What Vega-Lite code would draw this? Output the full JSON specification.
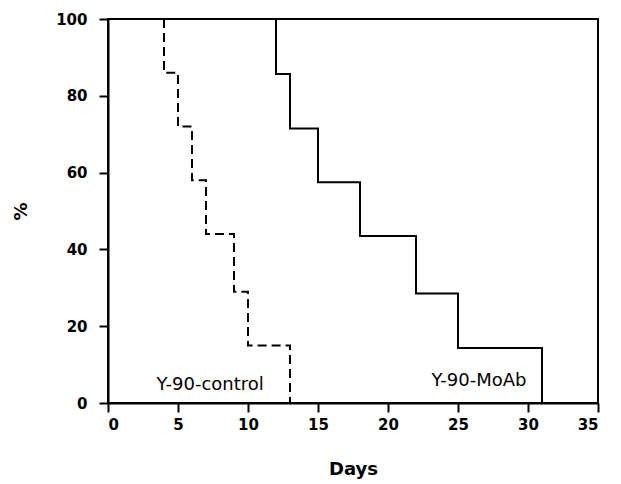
{
  "$schema": "https://vega.github.io/schema/vega-lite/v6.json",
  "width": 490,
  "height": 384,
  "autosize": {"type": "none"},
  "padding": {"left": 108, "top": 19, "right": 23, "bottom": 81},
  "background": "white",
  "config": {
    "view": {"stroke": "black", "strokeWidth": 2},
    "axis": {
      "grid": false,
      "domainColor": "black",
      "domainWidth": 2,
      "tickColor": "black",
      "tickWidth": 2,
      "tickSize": 9,
      "labelFont": "DejaVu Sans",
      "labelFontWeight": "bold",
      "labelFontSize": 15,
      "labelColor": "black",
      "titleFont": "DejaVu Sans",
      "titleFontWeight": "bold",
      "titleFontSize": 18,
      "titleColor": "black"
    }
  },
  "datasets": {
    "curves": [
      {"group": "Y-90-control", "day": 0, "pct": 100},
      {"group": "Y-90-control", "day": 4, "pct": 86},
      {"group": "Y-90-control", "day": 5, "pct": 72},
      {"group": "Y-90-control", "day": 6, "pct": 58},
      {"group": "Y-90-control", "day": 7, "pct": 44},
      {"group": "Y-90-control", "day": 9, "pct": 29},
      {"group": "Y-90-control", "day": 10, "pct": 15},
      {"group": "Y-90-control", "day": 13, "pct": 0},
      {"group": "Y-90-MoAb", "day": 0, "pct": 100},
      {"group": "Y-90-MoAb", "day": 12, "pct": 85.7},
      {"group": "Y-90-MoAb", "day": 13, "pct": 71.5},
      {"group": "Y-90-MoAb", "day": 15, "pct": 57.5},
      {"group": "Y-90-MoAb", "day": 18, "pct": 43.5},
      {"group": "Y-90-MoAb", "day": 22, "pct": 28.5},
      {"group": "Y-90-MoAb", "day": 25, "pct": 14.3},
      {"group": "Y-90-MoAb", "day": 31, "pct": 0}
    ],
    "labels": [
      {"label": "Y-90-control", "day": 7.3, "pct": 4.7},
      {"label": "Y-90-MoAb", "day": 26.5, "pct": 5.8}
    ]
  },
  "layer": [
    {
      "data": {"name": "curves"},
      "mark": {"type": "line", "interpolate": "step-after", "color": "black", "strokeWidth": 2},
      "encoding": {
        "x": {"field": "day", "type": "quantitative", "scale": {"domain": [0, 35], "nice": false}, "axis": {"values": [0, 5, 10, 15, 20, 25, 30, 35], "title": "Days", "titlePadding": 28, "labelPadding": 5}},
        "y": {"field": "pct", "type": "quantitative", "scale": {"domain": [0, 100], "nice": false}, "axis": {"values": [0, 20, 40, 60, 80, 100], "title": "%", "titlePadding": 25, "labelPadding": 12}},
        "detail": {"field": "group"},
        "strokeDash": {
          "field": "group",
          "type": "nominal",
          "scale": {"domain": ["Y-90-control", "Y-90-MoAb"], "range": [[9, 5], [1, 0]]},
          "legend": null
        }
      }
    },
    {
      "data": {"name": "labels"},
      "mark": {"type": "text", "font": "DejaVu Sans", "fontSize": 18, "color": "black"},
      "encoding": {
        "x": {"field": "day", "type": "quantitative"},
        "y": {"field": "pct", "type": "quantitative"},
        "text": {"field": "label"}
      }
    }
  ]
}
